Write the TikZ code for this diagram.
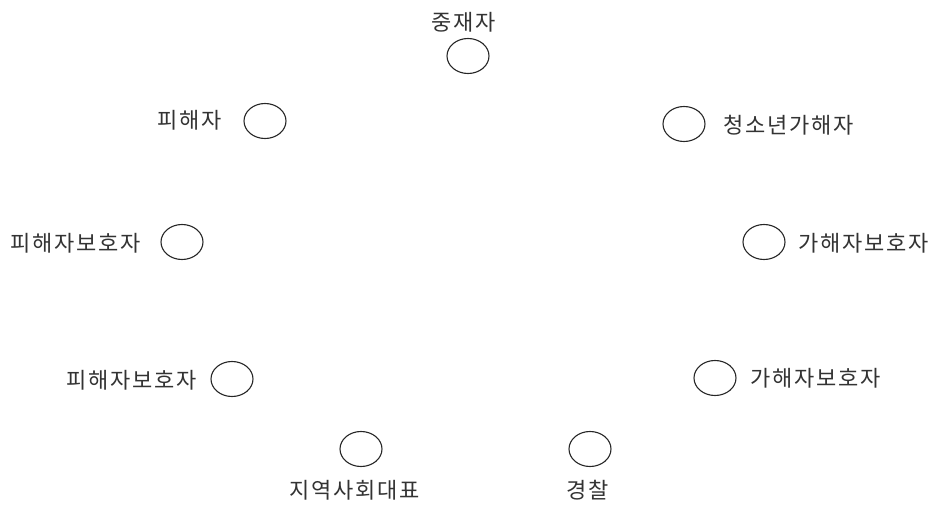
\documentclass[tikz,border=0pt]{standalone}
\usepackage{fontspec}
\newfontfamily\krfont[LetterSpace=8]{Noto Sans CJK KR}
\usetikzlibrary{shapes.geometric}

\begin{document}
\begin{tikzpicture}[x=1pt, y=-1pt]
  \tikzstyle{member} = [draw=black!85, ellipse, minimum width=42pt, minimum height=35pt, inner sep=0pt, line width=1.1pt]
  \tikzstyle{role} = [font=\krfont\fontsize{22}{26}\selectfont, text=black!80, inner sep=0pt]
  \useasboundingbox (0,0) rectangle (938,511);

  \node[member] (mediator) at (468, 56) {};
  \node[member] (victim) at (265, 121) {};
  \node[member] (offender) at (684, 124) {};
  \node[member] (vparentA) at (182, 242) {};
  \node[member] (oparentA) at (764, 242) {};
  \node[member] (vparentB) at (232, 379) {};
  \node[member] (oparentB) at (715, 378) {};
  \node[member] (community) at (361, 449) {};
  \node[member] (police) at (590, 449) {};

  \node[role] (mediatorlbl) at (464, 22) {중재자};
  \node[role] (victimlbl) at (190, 120) {피해자};
  \node[role] (offenderlbl) at (789, 125) {청소년가해자};
  \node[role] (vparentAlbl) at (76, 243) {피해자보호자};
  \node[role] (oparentAlbl) at (864, 243) {가해자보호자};
  \node[role] (vparentBlbl) at (132, 380) {피해자보호자};
  \node[role] (oparentBlbl) at (816, 378) {가해자보호자};
  \node[role] (communitylbl) at (355, 490) {지역사회대표};
  \node[role] (policelbl) at (588, 490) {경찰};
\end{tikzpicture}
\end{document}
